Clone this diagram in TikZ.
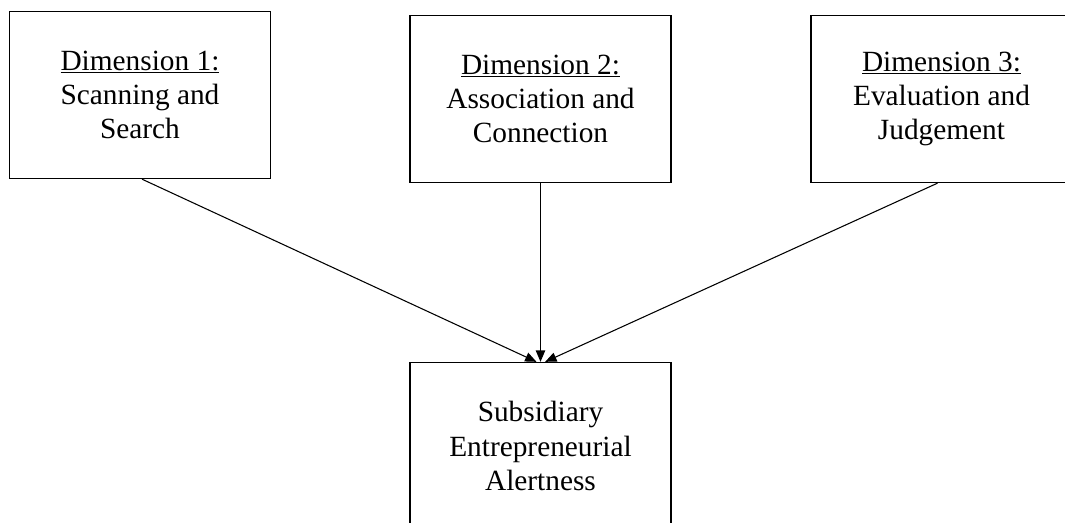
\documentclass[tikz,border=0pt]{standalone}
\usepackage{fontspec}
\setmainfont{Liberation Serif}
\usetikzlibrary{arrows.meta}
\tikzset{
  dimbox/.style={draw=black, line width=1pt, align=center,
    minimum width=261*0.75pt, minimum height=167*0.75pt, inner sep=0pt,
    font=\fontsize{22}{25.6}\selectfont},
  link/.style={line width=0.8pt, -{Triangle[length=8.5pt,width=7pt]}}
}
\begin{document}
\begin{tikzpicture}[x=0.75pt, y=-0.75pt]
  \useasboundingbox (0,0) rectangle (1065,523);
  \clip (0,0) rectangle (1065,523);
  \fill[white] (0,0) rectangle (1065,523);

  % three dimensions of alertness
  \node[dimbox] (d1) at (140,95)
    {\underline{Dimension 1:}\\Scanning and\\Search};
  \node[dimbox] (d2) at (540.5,99)
    {\underline{Dimension 2:}\\Association and\\Connection};
  \node[dimbox] (d3) at (941.5,99)
    {\underline{Dimension 3:}\\Evaluation and\\Judgement};

  % outcome
  \node[dimbox] (sea) at (540.5,446)
    {Subsidiary\\Entrepreneurial\\Alertness};

  % links
  \draw[link] ([xshift=1.5pt]d1.south) -- ([xshift=-3pt]sea.north);
  \draw[link] (d2.south) -- (sea.north);
  \draw[link] ([xshift=-3pt]d3.south) -- ([xshift=3.5pt]sea.north);
\end{tikzpicture}
\end{document}
